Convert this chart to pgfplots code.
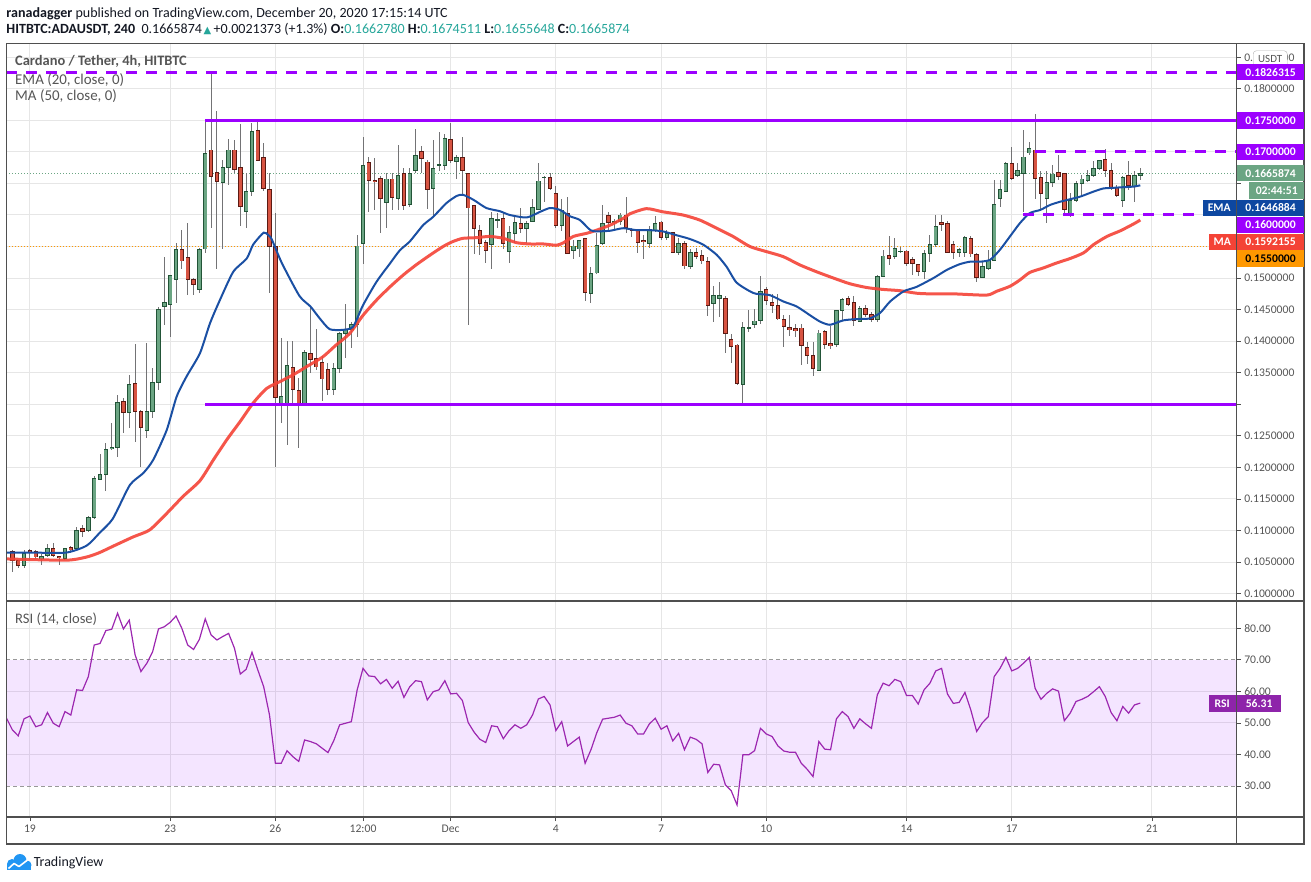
\documentclass[border=0pt]{standalone}
\usepackage{pgfplots}
\pgfplotsset{compat=1.18}
\usepackage{pgfplotstable}
\usepackage{fontspec}
\setmainfont{Carlito}
\newfontfamily\dejavu{DejaVu Sans}
\definecolor{upF}{HTML}{6BA583}
\definecolor{upB}{HTML}{225437}
\definecolor{dnF}{HTML}{D75442}
\definecolor{dnB}{HTML}{5B1A13}
\definecolor{wick}{HTML}{737375}
\definecolor{purp}{HTML}{9C00FF}
\definecolor{emaC}{HTML}{1A4FA3}
\definecolor{emaBox}{HTML}{0D47A1}
\definecolor{maC}{HTML}{F44336}
\definecolor{orangeC}{HTML}{FF9800}
\definecolor{gridC}{HTML}{E6E6E6}
\definecolor{frameC}{HTML}{4F4F4F}
\definecolor{txtC}{HTML}{555555}
\definecolor{rsiC}{HTML}{9C27B0}
\definecolor{rsiBox}{HTML}{8E24AA}
\definecolor{tealC}{HTML}{26A69A}
\definecolor{tvblue}{HTML}{2196F3}
\definecolor{headC}{HTML}{131722}

\pgfplotstableread{
j o h l c
0 0.1067 0.1069 0.1035 0.1053
1 0.1052 0.1053 0.1041 0.1045
2 0.1045 0.1069 0.1040 0.1064
3 0.1069 0.1071 0.1053 0.1067
4 0.1067 0.1069 0.1055 0.1058
5 0.1055 0.1063 0.1045 0.1059
6 0.1060 0.1078 0.1058 0.1072
7 0.1072 0.1081 0.1058 0.1060
8 0.1059 0.1060 0.1045 0.1057
9 0.1055 0.1073 0.1054 0.1072
10 0.1073 0.1076 0.1065 0.1069
11 0.1072 0.1106 0.1068 0.1100
12 0.1104 0.1109 0.1090 0.1099
13 0.1100 0.1123 0.1098 0.1121
14 0.1121 0.1187 0.1119 0.1183
15 0.1181 0.1222 0.1180 0.1189
16 0.1188 0.1238 0.1162 0.1229
17 0.1230 0.1270 0.1227 0.1232
18 0.1232 0.1315 0.1217 0.1303
19 0.1304 0.1310 0.1254 0.1287
20 0.1287 0.1347 0.1262 0.1332
21 0.1333 0.1395 0.1241 0.1288
22 0.1288 0.1291 0.1201 0.1263
23 0.1258 0.1397 0.1246 0.1288
24 0.1288 0.1357 0.1278 0.1334
25 0.1334 0.1454 0.1322 0.1450
26 0.1455 0.1534 0.1425 0.1461
27 0.1458 0.1505 0.1407 0.1504
28 0.1498 0.1556 0.1460 0.1546
29 0.1546 0.1576 0.1515 0.1527
30 0.1533 0.1588 0.1473 0.1498
31 0.1498 0.1500 0.1473 0.1490
32 0.1482 0.1547 0.1476 0.1546
33 0.1546 0.1748 0.1540 0.1698
34 0.1703 0.1827 0.1580 0.1661
35 0.1668 0.1764 0.1515 0.1653
36 0.1651 0.1687 0.1546 0.1675
37 0.1675 0.1720 0.1647 0.1703
38 0.1703 0.1719 0.1666 0.1672
39 0.1675 0.1744 0.1583 0.1613
40 0.1605 0.1666 0.1579 0.1637
41 0.1637 0.1746 0.1630 0.1733
42 0.1734 0.1750 0.1685 0.1686
43 0.1691 0.1714 0.1638 0.1642
44 0.1641 0.1666 0.1476 0.1550
45 0.1550 0.1603 0.1200 0.1311
46 0.1302 0.1405 0.1270 0.1312
47 0.1302 0.1401 0.1236 0.1362
48 0.1358 0.1401 0.1299 0.1324
49 0.1322 0.1342 0.1230 0.1302
50 0.1302 0.1386 0.1300 0.1382
51 0.1380 0.1452 0.1349 0.1371
52 0.1372 0.1419 0.1355 0.1359
53 0.1367 0.1376 0.1306 0.1340
54 0.1355 0.1365 0.1315 0.1323
55 0.1323 0.1365 0.1315 0.1357
56 0.1357 0.1415 0.1349 0.1412
57 0.1412 0.1459 0.1373 0.1419
58 0.1419 0.1431 0.1389 0.1427
59 0.1427 0.1568 0.1406 0.1551
60 0.1554 0.1724 0.1523 0.1679
61 0.1683 0.1692 0.1604 0.1655
62 0.1655 0.1691 0.1608 0.1653
63 0.1658 0.1661 0.1572 0.1626
64 0.1620 0.1666 0.1580 0.1657
65 0.1657 0.1666 0.1608 0.1628
66 0.1626 0.1711 0.1608 0.1663
67 0.1666 0.1674 0.1608 0.1615
68 0.1617 0.1674 0.1613 0.1666
69 0.1671 0.1736 0.1666 0.1695
70 0.1700 0.1709 0.1666 0.1690
71 0.1684 0.1687 0.1610 0.1640
72 0.1642 0.1719 0.1597 0.1674
73 0.1679 0.1731 0.1669 0.1680
74 0.1678 0.1729 0.1671 0.1721
75 0.1720 0.1746 0.1682 0.1686
76 0.1684 0.1695 0.1657 0.1691
77 0.1691 0.1724 0.1634 0.1671
78 0.1666 0.1667 0.1425 0.1611
79 0.1615 0.1616 0.1538 0.1579
80 0.1575 0.1584 0.1537 0.1555
81 0.1556 0.1560 0.1524 0.1544
82 0.1553 0.1604 0.1514 0.1594
83 0.1592 0.1603 0.1579 0.1593
84 0.1594 0.1603 0.1546 0.1555
85 0.1542 0.1582 0.1524 0.1572
86 0.1571 0.1597 0.1556 0.1588
87 0.1586 0.1611 0.1571 0.1579
88 0.1578 0.1591 0.1555 0.1587
89 0.1590 0.1626 0.1589 0.1612
90 0.1609 0.1683 0.1608 0.1654
91 0.1659 0.1662 0.1621 0.1660
92 0.1660 0.1667 0.1640 0.1642
93 0.1634 0.1646 0.1580 0.1583
94 0.1583 0.1625 0.1575 0.1608
95 0.1603 0.1628 0.1538 0.1539
96 0.1543 0.1560 0.1530 0.1551
97 0.1546 0.1561 0.1533 0.1560
98 0.1563 0.1564 0.1463 0.1477
99 0.1476 0.1518 0.1461 0.1508
100 0.1508 0.1571 0.1506 0.1552
101 0.1554 0.1615 0.1552 0.1587
102 0.1599 0.1604 0.1573 0.1588
103 0.1588 0.1593 0.1577 0.1590
104 0.1590 0.1603 0.1584 0.1600
105 0.1600 0.1629 0.1572 0.1580
106 0.1576 0.1579 0.1565 0.1575
107 0.1575 0.1576 0.1540 0.1556
108 0.1559 0.1568 0.1530 0.1557
109 0.1555 0.1582 0.1547 0.1576
110 0.1575 0.1599 0.1573 0.1587
111 0.1589 0.1590 0.1561 0.1564
112 0.1564 0.1576 0.1560 0.1571
113 0.1572 0.1573 0.1539 0.1541
114 0.1541 0.1563 0.1537 0.1555
115 0.1555 0.1558 0.1514 0.1519
116 0.1518 0.1546 0.1515 0.1541
117 0.1540 0.1548 0.1531 0.1534
118 0.1536 0.1544 0.1523 0.1527
119 0.1526 0.1533 0.1440 0.1457
120 0.1460 0.1488 0.1431 0.1472
121 0.1467 0.1493 0.1439 0.1472
122 0.1468 0.1471 0.1382 0.1412
123 0.1403 0.1412 0.1365 0.1391
124 0.1394 0.1395 0.1330 0.1333
125 0.1331 0.1431 0.1302 0.1422
126 0.1421 0.1450 0.1415 0.1422
127 0.1427 0.1451 0.1421 0.1432
128 0.1433 0.1503 0.1427 0.1479
129 0.1482 0.1486 0.1457 0.1465
130 0.1461 0.1474 0.1444 0.1457
131 0.1456 0.1474 0.1434 0.1435
132 0.1435 0.1441 0.1391 0.1423
133 0.1422 0.1441 0.1408 0.1418
134 0.1420 0.1428 0.1407 0.1417
135 0.1421 0.1427 0.1362 0.1393
136 0.1390 0.1398 0.1364 0.1377
137 0.1377 0.1398 0.1345 0.1356
138 0.1354 0.1418 0.1353 0.1413
139 0.1415 0.1418 0.1387 0.1394
140 0.1396 0.1424 0.1388 0.1393
141 0.1395 0.1450 0.1391 0.1449
142 0.1449 0.1469 0.1433 0.1466
143 0.1468 0.1471 0.1455 0.1458
144 0.1461 0.1471 0.1424 0.1433
145 0.1431 0.1455 0.1430 0.1452
146 0.1452 0.1458 0.1439 0.1442
147 0.1442 0.1446 0.1430 0.1434
148 0.1434 0.1505 0.1430 0.1503
149 0.1503 0.1545 0.1501 0.1535
150 0.1536 0.1567 0.1520 0.1531
151 0.1534 0.1564 0.1531 0.1547
152 0.1542 0.1550 0.1539 0.1543
153 0.1543 0.1544 0.1519 0.1523
154 0.1530 0.1534 0.1505 0.1523
155 0.1522 0.1523 0.1503 0.1510
156 0.1510 0.1544 0.1499 0.1539
157 0.1539 0.1568 0.1525 0.1553
158 0.1553 0.1600 0.1549 0.1582
159 0.1588 0.1600 0.1575 0.1585
160 0.1587 0.1590 0.1540 0.1541
161 0.1553 0.1558 0.1531 0.1541
162 0.1541 0.1547 0.1534 0.1545
163 0.1540 0.1566 0.1534 0.1564
164 0.1563 0.1567 0.1534 0.1538
165 0.1538 0.1539 0.1493 0.1501
166 0.1501 0.1527 0.1500 0.1519
167 0.1515 0.1544 0.1513 0.1528
168 0.1528 0.1655 0.1527 0.1617
169 0.1626 0.1655 0.1612 0.1641
170 0.1637 0.1684 0.1636 0.1682
171 0.1682 0.1707 0.1656 0.1658
172 0.1663 0.1682 0.1660 0.1670
173 0.1665 0.1735 0.1605 0.1692
174 0.1698 0.1716 0.1695 0.1706
175 0.1703 0.1760 0.1626 0.1658
176 0.1660 0.1669 0.1608 0.1634
177 0.1626 0.1669 0.1588 0.1651
178 0.1652 0.1679 0.1644 0.1665
179 0.1668 0.1695 0.1655 0.1661
180 0.1666 0.1667 0.1600 0.1608
181 0.1603 0.1635 0.1596 0.1623
182 0.1623 0.1654 0.1621 0.1650
183 0.1650 0.1663 0.1632 0.1657
184 0.1655 0.1671 0.1653 0.1662
185 0.1662 0.1685 0.1660 0.1674
186 0.1674 0.1687 0.1671 0.1686
187 0.1688 0.1704 0.1660 0.1670
188 0.1671 0.1682 0.1640 0.1642
189 0.1644 0.1648 0.1629 0.1631
190 0.1623 0.1662 0.1612 0.1660
191 0.1663 0.1685 0.1640 0.1646
192 0.1645 0.1670 0.1620 0.1663
193 0.1662780 0.1674511 0.1655648 0.1665874
}\candles

\pgfplotstableread{
j r
-1 51.5
0 47.8
1 45.9
2 51.3
3 52.2
4 48.8
5 49.4
6 53.3
7 49.9
8 48.8
9 53.6
10 52.5
11 60.5
12 60.3
13 64.7
14 74.7
15 75.2
16 79.3
17 79.7
18 84.8
19 79.8
20 82.6
21 71.6
22 66.3
23 68.9
24 72.6
25 79.8
26 80.5
27 81.9
28 83.9
29 80.0
30 74.7
31 73.3
32 76.5
33 83.0
34 77.9
35 76.3
36 77.4
37 78.4
38 73.7
39 65.5
40 67.0
41 72.4
42 66.8
43 61.5
44 52.5
45 37.2
46 37.2
47 41.2
48 39.3
49 37.8
50 44.6
51 44.1
52 43.4
53 42.0
54 40.6
55 44.4
56 49.4
57 49.9
58 50.4
59 60.5
60 67.3
61 64.9
62 64.7
63 62.4
64 63.8
65 61.0
66 63.2
67 58.1
68 61.5
69 63.4
70 63.1
71 57.3
72 59.9
73 60.5
74 63.4
75 59.2
76 59.4
77 57.1
78 50.1
79 47.1
80 44.8
81 43.8
82 49.1
83 48.8
84 45.0
85 47.6
86 49.4
87 48.3
88 49.4
89 52.5
90 57.6
91 58.4
92 55.7
93 47.6
94 50.4
95 42.7
96 44.1
97 45.5
98 37.2
99 41.5
100 46.9
101 51.2
102 51.5
103 51.8
104 52.5
105 49.9
106 49.1
107 46.5
108 46.5
109 49.7
110 51.5
111 48.0
112 49.1
113 44.3
114 46.7
115 41.5
116 45.5
117 44.8
118 43.4
119 34.3
120 36.9
121 36.7
122 30.4
123 28.5
124 24.0
125 39.9
126 39.9
127 41.2
128 48.3
129 46.5
130 45.7
131 42.7
132 41.1
133 40.7
134 40.7
135 37.2
136 35.3
137 33.0
138 44.1
139 41.7
140 41.5
141 51.3
142 53.6
143 52.0
144 48.3
145 51.3
146 49.7
147 48.3
148 58.9
149 62.6
150 61.8
151 63.8
152 63.1
153 58.7
154 58.7
155 56.0
156 60.5
157 62.6
158 66.5
159 67.3
160 59.2
161 56.2
162 56.5
163 59.7
164 54.1
165 47.3
166 50.1
167 52.0
168 64.7
169 67.3
170 70.8
171 66.5
172 67.3
173 68.9
174 70.8
175 61.0
176 57.5
177 59.4
178 60.8
179 60.1
180 50.7
181 53.1
182 56.8
183 57.5
184 58.4
185 59.9
186 61.5
187 58.4
188 53.3
189 50.7
190 55.2
191 53.1
192 55.7
193 56.31
}\rsi

\newcommand{\tickfont}{\fontsize{11.7}{12}\selectfont}
\newcommand{\boxfont}{\fontsize{11.7}{12}\selectfont\bfseries}

\begin{document}
\begin{tikzpicture}[x=1bp,y=-1bp]
\path[use as bounding box] (0,0) rectangle (1311,881);

% ---------------- price panel ----------------
\begin{axis}[
  at={(6.3bp,-601bp)}, anchor=south west,
  scale only axis, width=1230.4bp, height=557.7bp,
  xmin=-1.04, xmax=209.5, ymin=0.09883, ymax=0.1872,
  axis line style={draw=none},
  xtick={3,27,45,60,75,93,111,129,153,171,195}, xticklabels={},
  xtick style={draw=none},
  ytick={0.100,0.105,0.110,0.115,0.120,0.125,0.130,0.135,0.140,0.145,0.150,0.155,0.160,0.165,0.170,0.175,0.180,0.185},
  yticklabels={0.1000000,0.1050000,0.1100000,0.1150000,0.1200000,0.1250000,{},0.1350000,0.1400000,0.1450000,0.1500000,{},{},{},{},{},0.1800000,0.1850000},
  ytick pos=right, yticklabel pos=right,
  tick align=outside, major tick length=4bp,
  ytick style={draw=frameC, line width=0.8bp},
  scaled y ticks=false,
  yticklabel style={font=\tickfont, text=txtC},
  grid=major, grid style={draw=gridC, line width=1bp},
]
% reference dotted lines
\addplot[upF, line width=1bp, dash pattern=on 1bp off 2bp] coordinates {(-1.04,0.1665874) (209.5,0.1665874)};
\addplot[orangeC, line width=1bp, dash pattern=on 1bp off 2bp] coordinates {(-1.04,0.155) (209.5,0.155)};
% wicks
\addplot[draw=none, mark=none, error bars/.cd, y dir=both, y explicit, error mark=none,
  error bar style={line width=1bp, draw=wick}]
  table[x=j, y expr={(\thisrow{h}+\thisrow{l})/2}, y error expr={(\thisrow{h}-\thisrow{l})/2}] {\candles};
% up bodies
\addplot[draw=none, mark=none, restrict expr to domain={\thisrow{c}-\thisrow{o}}{0:1},
  error bars/.cd, y dir=both, y explicit, error mark=none,
  error bar style={line width=4.4bp, draw=upB}]
  table[x=j, y expr={(\thisrow{o}+\thisrow{c})/2}, y error expr={abs(\thisrow{c}-\thisrow{o})/2+0.00006}] {\candles};
\addplot[draw=none, mark=none, restrict expr to domain={\thisrow{c}-\thisrow{o}}{0:1},
  error bars/.cd, y dir=both, y explicit, error mark=none,
  error bar style={line width=2.8bp, draw=upF}]
  table[x=j, y expr={(\thisrow{o}+\thisrow{c})/2}, y error expr={max(abs(\thisrow{c}-\thisrow{o})/2-0.00008,0)}] {\candles};
% down bodies
\addplot[draw=none, mark=none, restrict expr to domain={\thisrow{c}-\thisrow{o}}{-1:0},
  error bars/.cd, y dir=both, y explicit, error mark=none,
  error bar style={line width=4.4bp, draw=dnB}]
  table[x=j, y expr={(\thisrow{o}+\thisrow{c})/2}, y error expr={abs(\thisrow{c}-\thisrow{o})/2+0.00006}] {\candles};
\addplot[draw=none, mark=none, restrict expr to domain={\thisrow{c}-\thisrow{o}}{-1:0},
  error bars/.cd, y dir=both, y explicit, error mark=none,
  error bar style={line width=2.8bp, draw=dnF}]
  table[x=j, y expr={(\thisrow{o}+\thisrow{c})/2}, y error expr={max(abs(\thisrow{c}-\thisrow{o})/2-0.00008,0)}] {\candles};
% MA 50
\addplot[maC, line width=3bp, opacity=0.9, smooth, tension=0.4] coordinates {
(-1.06,0.1055) (9.2,0.1053) (12.7,0.1058) (14.9,0.1065) (17.2,0.1075) (20.7,0.1090) (23.5,0.1101)
(26.4,0.1127) (29.2,0.1154) (32.1,0.1179) (34.4,0.1212) (36.7,0.1244) (39.0,0.1273) (41.2,0.1302)
(43.5,0.1325) (45.8,0.1336) (48.1,0.1347) (50.4,0.1360) (53.1,0.1375) (55.4,0.1394) (57.7,0.1412)
(60.0,0.1441) (62.3,0.1465) (64.6,0.1486) (66.9,0.1505) (69.1,0.1521) (71.4,0.1536) (73.7,0.1550)
(75.4,0.1558) (77.1,0.1563) (79.4,0.1564) (81.7,0.1566) (84.0,0.1563) (86.3,0.1556) (88.6,0.1554)
(90.9,0.1554) (93.1,0.1552) (94.3,0.1556) (96.0,0.1566) (98.3,0.1571) (100.0,0.1576) (102.3,0.1584)
(104.6,0.1595) (105.7,0.1602) (108.5,0.1610) (111.3,0.1605) (114.7,0.1600) (117.6,0.1592)
(120.5,0.1579) (123.3,0.1566) (126.2,0.1550) (129.0,0.1542) (131.9,0.1534) (134.7,0.1521)
(137.6,0.1510) (140.5,0.1500) (143.3,0.1491) (146.2,0.1485) (149.0,0.1482) (151.9,0.1480)
(154.7,0.1476) (157.0,0.1475) (161.0,0.1475) (166.7,0.1473) (168.4,0.1479) (170.7,0.1487)
(172.4,0.1497) (174.1,0.1509) (176.4,0.1516) (178.7,0.1524) (181.0,0.1531) (183.3,0.1540)
(185.0,0.1553) (187.3,0.1566) (189.6,0.1575) (191.9,0.1586) (193.0,0.1592)
};
% EMA 20
\addplot[emaC, line width=2bp, smooth, tension=0.4] coordinates {
(-1.06,0.1065) (3.5,0.1065) (9.2,0.1065) (12.7,0.1076) (14.9,0.1096) (17.2,0.1119) (20.1,0.1172)
(22.4,0.1191) (24.1,0.1212) (26.4,0.1259) (28.1,0.1312) (29.8,0.1344) (32.1,0.1381) (33.8,0.1428)
(35.5,0.1465) (37.8,0.1510) (40.1,0.1531) (41.2,0.1553) (43.0,0.1572) (43.8,0.1568) (44.4,0.1561)
(46.1,0.1524) (49.1,0.1472) (51.0,0.1455) (52.6,0.1436) (54.3,0.1419) (56.6,0.1418) (58.3,0.1423)
(60.0,0.1457) (62.3,0.1494) (64.6,0.1523) (66.3,0.1544) (68.0,0.1558) (70.3,0.1584) (72.0,0.1597)
(74.3,0.1619) (76.0,0.1630) (77.1,0.1632) (78.9,0.1624) (81.1,0.1611) (83.4,0.1606) (85.1,0.1600)
(88.0,0.1596) (90.3,0.1605) (92.0,0.1611) (93.7,0.1608) (95.4,0.1598) (97.1,0.1592) (98.9,0.1576)
(100.0,0.1574) (102.3,0.1575) (104.5,0.1579) (106.7,0.1576) (109.0,0.1576) (111.3,0.1574)
(113.6,0.1568) (115.9,0.1562) (118.2,0.1553) (120.5,0.1537) (122.2,0.1518) (123.9,0.1493)
(126.2,0.1479) (127.3,0.1475) (129.6,0.1473) (131.9,0.1463) (134.2,0.1455) (136.5,0.1441)
(138.2,0.1431) (139.9,0.1426) (142.2,0.1433) (144.5,0.1435) (146.7,0.1436) (148.5,0.1445)
(150.2,0.1463) (152.5,0.1479) (154.7,0.1486) (157.6,0.1500) (159.9,0.1513) (162.1,0.1522)
(163.9,0.1526) (165.6,0.1526) (167.3,0.1529) (169.0,0.1545) (170.7,0.1566) (172.4,0.1587)
(174.1,0.1603) (175.9,0.1608) (177.6,0.1616) (179.3,0.1621) (181.0,0.1625) (182.7,0.1629)
(185.0,0.1637) (186.7,0.1642) (188.4,0.1643) (190.1,0.1644) (191.9,0.1645) (193.0,0.1647)
};
% drawn levels
\addplot[purp, line width=3bp, dash pattern=on 11bp off 9bp] coordinates {(-1.04,0.1826315) (209.5,0.1826315)};
\addplot[purp, line width=3bp] coordinates {(33,0.175) (209.5,0.175)};
\addplot[purp, line width=3bp, dash pattern=on 11bp off 9bp] coordinates {(175,0.17) (209.5,0.17)};
\addplot[purp, line width=3bp, dash pattern=on 11bp off 9bp] coordinates {(173,0.16) (209.5,0.16)};
\addplot[purp, line width=3bp] coordinates {(33,0.13) (209.5,0.13)};
\end{axis}

% ---------------- RSI panel ----------------
\begin{axis}[
  at={(6.3bp,-817bp)}, anchor=south west,
  scale only axis, width=1230.4bp, height=216bp,
  xmin=-1.04, xmax=209.5, ymin=20.17, ymax=88.66,
  axis line style={draw=none},
  xtick={3,27,45,60,75,93,111,129,153,171,195},
  xticklabels={19,23,26,12:00,Dec,4,7,10,14,17,21},
  xtick pos=bottom,
  ytick={30,40,50,60,70,80},
  yticklabels={30.00,40.00,50.00,60.00,70.00,80.00},
  ytick pos=right, yticklabel pos=right,
  tick align=outside, major tick length=4bp,
  tick style={draw=frameC, line width=0.8bp},
  yticklabel style={font=\tickfont, text=txtC},
  xticklabel style={font=\tickfont, text=txtC},
  xmajorgrids, grid style={draw=gridC, line width=1bp},
]
\addplot[gridC, line width=1bp] coordinates {(-1.04,80) (209.5,80)};
\addplot[gridC, line width=1bp] coordinates {(-1.04,60) (209.5,60)};
\addplot[gridC, line width=1bp] coordinates {(-1.04,50) (209.5,50)};
\addplot[gridC, line width=1bp] coordinates {(-1.04,40) (209.5,40)};
\fill[fill={rgb,255:red,150;green,0;blue,255}, fill opacity=0.1] (axis cs:-1.04,30) rectangle (axis cs:209.5,70);
\addplot[gray!80, line width=1bp, dash pattern=on 4bp off 3bp] coordinates {(-1.04,70) (209.5,70)};
\addplot[gray!80, line width=1bp, dash pattern=on 4bp off 3bp] coordinates {(-1.04,30) (209.5,30)};
\addplot[rsiC, line width=1.2bp] table[x=j, y=r] {\rsi};
\end{axis}

% ---------------- frame ----------------
\draw[frameC, line width=1.3bp] (6.3,43.3) rectangle (1304,844);
\draw[frameC, line width=1.3bp] (1236.7,43.3) -- (1236.7,844);
\draw[frameC, line width=1.3bp] (6.3,601) -- (1304,601);
\draw[frameC, line width=1.3bp] (6.3,817) -- (1304,817);

% ---------------- header ----------------
\node[anchor=west, inner sep=0, text=headC, font=\fontsize{14.1}{15}\selectfont] at (6.3,13.3)
  {\textbf{ranadagger} published on TradingView.com, December 20, 2020 17:15:14 UTC};
\node[anchor=west, inner sep=0, text=headC, font=\fontsize{14.1}{15}\selectfont] at (6.3,29.7)
  {\textbf{HITBTC:ADAUSDT, 240}\ \ 0.1665874{\color{tealC}\dejavu\fontsize{10}{10}\selectfont\,▲}\,+0.0021373 (+1.3\%) \textbf{O:}{\color{tealC}0.1662780} \textbf{H:}{\color{tealC}0.1674511} \textbf{L:}{\color{tealC}0.1655648} \textbf{C:}{\color{tealC}0.1665874}};

% legends
\node[anchor=west, inner sep=0, text=txtC, font=\fontsize{14.5}{15}\selectfont\bfseries] at (15,61) {Cardano / Tether, 4h, HITBTC};
\node[anchor=west, inner sep=0, text=txtC, font=\fontsize{15}{16}\selectfont] at (15,80) {EMA (20, close, 0)};
\node[anchor=west, inner sep=0, text=txtC, font=\fontsize{15}{16}\selectfont] at (15,96.5) {MA (50, close, 0)};
\node[anchor=west, inner sep=0, text=txtC, font=\fontsize{14.6}{15}\selectfont] at (15,619) {RSI (14, close)};

% right-hand price labels
\tikzset{lbl/.style={anchor=west, inner sep=0, minimum height=16.5bp, text=white, font=\boxfont}}
\node[lbl, fill=white, draw=gray!60, rounded corners=3bp, text=txtC, minimum width=34bp, minimum height=16bp, font=\fontsize{11}{12}\selectfont] at (1253,58.8) {USDT};
\node[lbl, fill=purp, minimum width=67.3bp] at (1236.7,72.1) {0.1826315};
\node[lbl, fill=purp, minimum width=67.3bp] at (1236.7,120.4) {0.1750000};
\node[lbl, fill=purp, minimum width=67.3bp] at (1236.7,151.8) {0.1700000};
\node[lbl, fill=upF, minimum width=67.3bp] at (1236.7,173.2) {0.1665874};
\node[lbl, fill=upF, minimum width=55bp] at (1249,190.5) {02:44:51};
\node[lbl, fill=emaBox, minimum width=33bp] at (1202.5,207.9) {EMA};
\node[lbl, fill=emaBox, minimum width=67.3bp] at (1236.7,207.9) {0.1646884};
\node[lbl, fill=purp, minimum width=67.3bp] at (1236.7,225) {0.1600000};
\node[lbl, fill=maC, minimum width=27bp] at (1208.5,241.8) {MA};
\node[lbl, fill=maC, minimum width=67.3bp] at (1236.7,241.8) {0.1592155};
\node[lbl, fill=orangeC, minimum width=67.3bp, text=black] at (1236.7,258.6) {0.1550000};
% RSI labels
\node[lbl, fill=rsiBox, minimum width=27bp] at (1208.5,703.5) {RSI};
\node[lbl, fill=rsiBox, minimum width=44.5bp] at (1236.7,703.5) {56.31};

% TradingView logo
\fill[tvblue] (12,864) circle (5);
\fill[tvblue] (20,860.5) circle (6.5);
\fill[tvblue] (27,865) circle (4.5);
\fill[tvblue] (7,864) rectangle (31,870);
\draw[white, line width=1.6bp, line join=round] (8.5,868.5) -- (14,863.5) -- (19,866.5) -- (27.5,860);
\node[anchor=west, inner sep=0, text=headC, font=\fontsize{14}{15}\selectfont] at (33.6,863) {TradingView};
\end{tikzpicture}
\end{document}
